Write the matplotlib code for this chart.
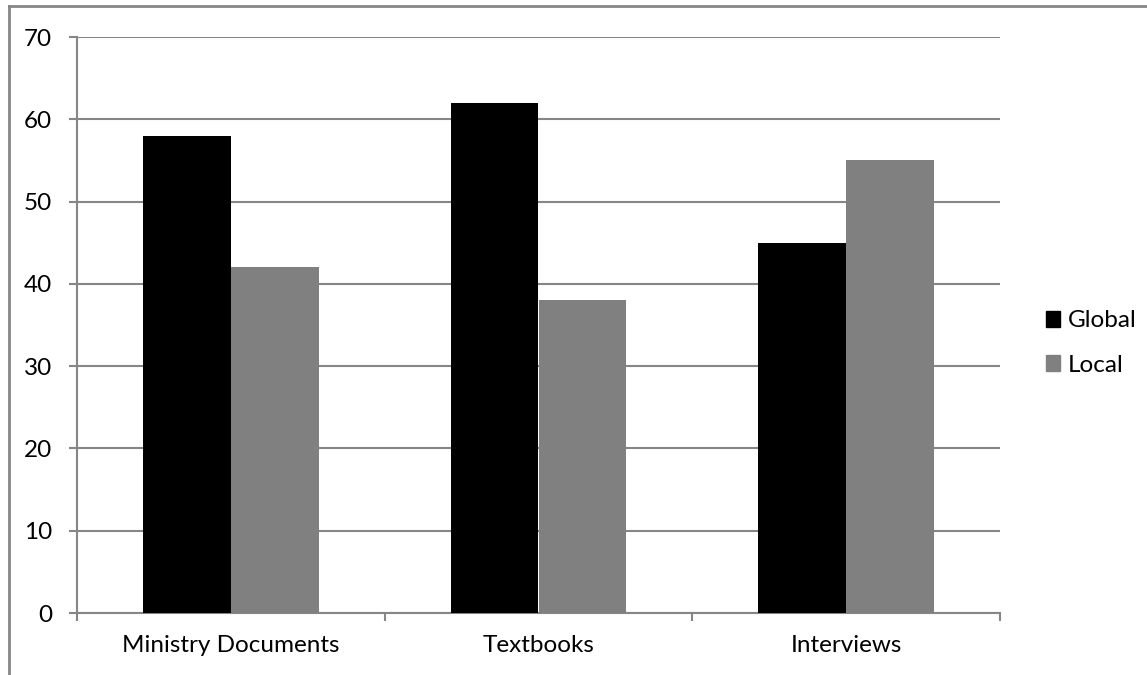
import matplotlib.pyplot as plt
from matplotlib.lines import Line2D
from matplotlib.patches import Rectangle
import numpy as np

categories = ["Ministry Documents", "Textbooks", "Interviews"]
global_vals = [58, 62, 45]
local_vals = [42, 38, 55]
y_ticks = [0, 10, 20, 30, 40, 50, 60, 70]

plt.rcParams['font.family'] = ['Lato', 'DejaVu Sans']
GRID = '#868686'
FS = 17.5

fig = plt.figure(figsize=(11.47, 6.75), dpi=100)
ax = fig.add_axes([77 / 1147, 1 - 613 / 675, 923 / 1147, 576 / 675])

x = np.arange(len(categories)) + 0.5
w = 1 / 3.5
ax.bar(x - w / 2, global_vals, w, color='black', label='Global', zorder=3)
ax.bar(x + w / 2, local_vals, w, color='#808080', label='Local', zorder=3)

ax.set_xlim(0, 3)
ax.set_ylim(0, 70)
ax.set_yticks(y_ticks)
ax.yaxis.grid(True, color=GRID, linewidth=1.5, zorder=0)

# category boundary ticks, labels centred between them
ax.set_xticks([0, 1, 2, 3])
ax.set_xticklabels([])
ax.set_xticks(x, minor=True)
ax.set_xticklabels(categories, minor=True)
ax.tick_params(axis='x', which='minor', length=0, pad=16, labelsize=FS)
ax.tick_params(axis='x', which='major', length=6, width=1.5, color=GRID)
ax.tick_params(axis='y', length=6, width=1.5, color=GRID, pad=12, labelsize=FS)

for side in ['top', 'right']:
    ax.spines[side].set_visible(False)
for side in ['left', 'bottom']:
    ax.spines[side].set_color(GRID)
    ax.spines[side].set_linewidth(1.5)

leg = fig.legend(handles=[Rectangle((0, 0), 1, 1, color='black'),
                          Rectangle((0, 0), 1, 1, color='#808080')],
                 labels=['Global', 'Local'], loc='center left',
                 bbox_to_anchor=(1024 / 1147, 1 - 343 / 675), frameon=False,
                 fontsize=FS, handlelength=0.6, handleheight=0.6,
                 handletextpad=0.3, labelspacing=0.95)

# chart frame (left and top edges visible)
fig.add_artist(Line2D([9 / 1147, 9 / 1147], [0, 1 - 6 / 675], color=GRID, linewidth=2,
                      transform=fig.transFigure))
fig.add_artist(Line2D([9 / 1147, 1], [1 - 6 / 675, 1 - 6 / 675], color=GRID, linewidth=2,
                      transform=fig.transFigure))

fig.savefig('out.png', dpi=100)
